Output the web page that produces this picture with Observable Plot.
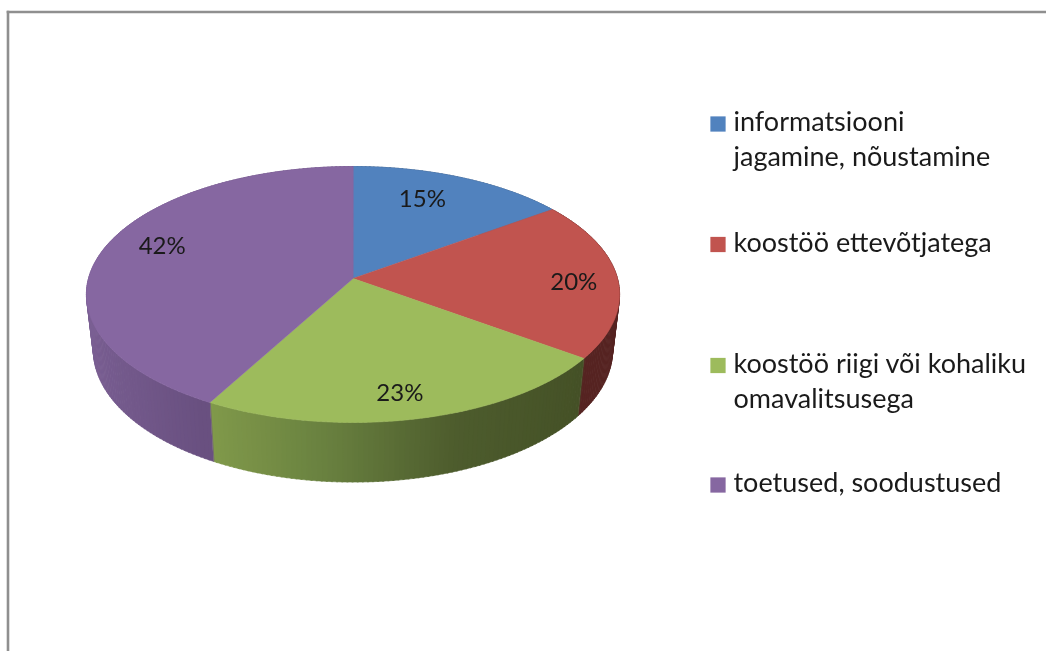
<!DOCTYPE html>
<html>
<head>
<meta charset="utf-8">
<script src="https://cdn.jsdelivr.net/npm/d3@7"></script>
<script src="https://cdn.jsdelivr.net/npm/@observablehq/plot@0.6"></script>
<style>
html,body{margin:0;padding:0;background:#fff}
svg{display:block;background:#fff;filter:blur(0.45px)}
</style>
</head>
<body>
<div id="chart"></div>
<script>
// Data
const categories = ["informatsiooni\njagamine, nõustamine", "koostöö ettevõtjatega", "koostöö riigi või kohaliku\nomavalitsusega", "toetused, soodustused"];
const percents = [15, 20, 23, 42];
const faceColors = ["#5182be", "#c1544f", "#9dbb5c", "#8667a1"];

// Label placement on the pie plane (degrees clockwise from top, fraction of radius)
const labelAngle = [22.7, 92.2, 169, 289.4];
const labelRadius = [0.737, 0.832, 0.834, 0.79];

// Wall shading along the horizontal position of the rim
const wallStops = [
  {u: [-1, 1], c: ["#44607f", "#44607f"]},
  {u: [-1, 1], c: ["#562422", "#562422"]},
  {u: [-0.5, -0.1, 0.35, 0.85], c: ["#829b4b", "#6a8240", "#4d5c2d", "#445026"]},
  {u: [-1, -0.5, 1], c: ["#7a5f93", "#695080", "#695080"]}
];

// Perspective view of the disc
const persp = 0.125;
const lower = {sx: 0.974, sy: 130 / 126, dy: 55 / 126};
const rad = (d) => (d * Math.PI) / 180;
function project(deg, r = 1, floor = false) {
  const u = r * Math.sin(rad(deg));
  const v = -r * Math.cos(rad(deg));
  const w = 1 - persp * v;
  return floor
    ? {x: (lower.sx * u) / w, y: (lower.sy * v) / w + lower.dy}
    : {x: u / w, y: v / w};
}

const cum = d3.cumsum(percents);
const start = (i) => (i === 0 ? 0 : cum[i - 1]) * 3.6;
const end = (i) => cum[i] * 3.6;

// Wall strips
const walls = [];
percents.forEach((_, i) => {
  const tone = d3.scaleLinear().domain(wallStops[i].u).range(wallStops[i].c).interpolate(d3.interpolateRgb).clamp(true);
  for (const a of d3.range(start(i), end(i), 1)) {
    const b = Math.min(a + 1.25, end(i));
    const fill = d3.rgb(tone(Math.sin(rad(a)))).formatHex();
    const id = `${i}-${a}`;
    [project(a), project(b), project(b, 1, true), project(a, 1, true)].forEach((p) => walls.push({...p, id, fill}));
  }
});

// Top face slices
const faces = [];
percents.forEach((_, i) => {
  faces.push({...project(0, 0), category: categories[i]});
  for (let a = start(i); ; a += 1) {
    const t = Math.min(a, end(i));
    faces.push({...project(t), category: categories[i]});
    if (t >= end(i)) break;
  }
});

const labels = percents.map((p, i) => ({...project(labelAngle[i], labelRadius[i]), text: `${p}%`}));

const font = "Lato";
const legendTop = [106, 226.5, 347.5, 467];
const legendSize = 27;
const legendMarks = categories.flatMap((c, i) => [
  Plot.dot([c], {
    frameAnchor: "top-left", dx: 717.5 - 7.5, dy: 123.5 + [0, 120.5, 241.5, 361][i] - 11.5,
    symbol: "square", r: 8.6, fill: (d) => d
  }),
  Plot.text([c], {
    text: (d) => d, frameAnchor: "top-left", textAnchor: "start", lineAnchor: "top",
    dx: 733 - 7.5, dy: legendTop[i] - 11.5, fontSize: legendSize, lineHeight: 35 / legendSize,
    fontFamily: font, fill: "#1a1a1a"
  })
]);

const R = 264.5, S = 126, cx = 352.5, cy = 278;
const plot = Plot.plot({
  width: 1046, height: 651,
  marginTop: 11.5, marginLeft: 7.5, marginRight: 0, marginBottom: 0,
  style: {background: "#fff"},
  x: {domain: [-1, 1], range: [cx - R, cx + R], axis: null},
  y: {domain: [-1, 1], range: [cy - S, cy + S], axis: null},
  color: {domain: categories, range: faceColors, legend: false},
  marks: [
    Plot.frame({anchor: "top", stroke: "#8f8f8f", strokeWidth: 2.6, strokeOpacity: 1}),
    Plot.frame({anchor: "left", stroke: "#8f8f8f", strokeWidth: 2.6, strokeOpacity: 1}),
    Plot.line(walls, {x: "x", y: "y", z: "id", fill: "fill", stroke: "fill", strokeWidth: 0.6, curve: "linear-closed", sort: null}),
    Plot.line(faces, {x: "x", y: "y", z: "category", fill: "category", stroke: "category", strokeWidth: 0.6, curve: "linear-closed"}),
    Plot.text(labels, {x: "x", y: "y", text: "text", fontSize: 24, fontFamily: font, fill: "#1a1a1a"}),
    ...legendMarks
  ]
});
document.getElementById("chart").append(plot);
</script>
</body>
</html>
